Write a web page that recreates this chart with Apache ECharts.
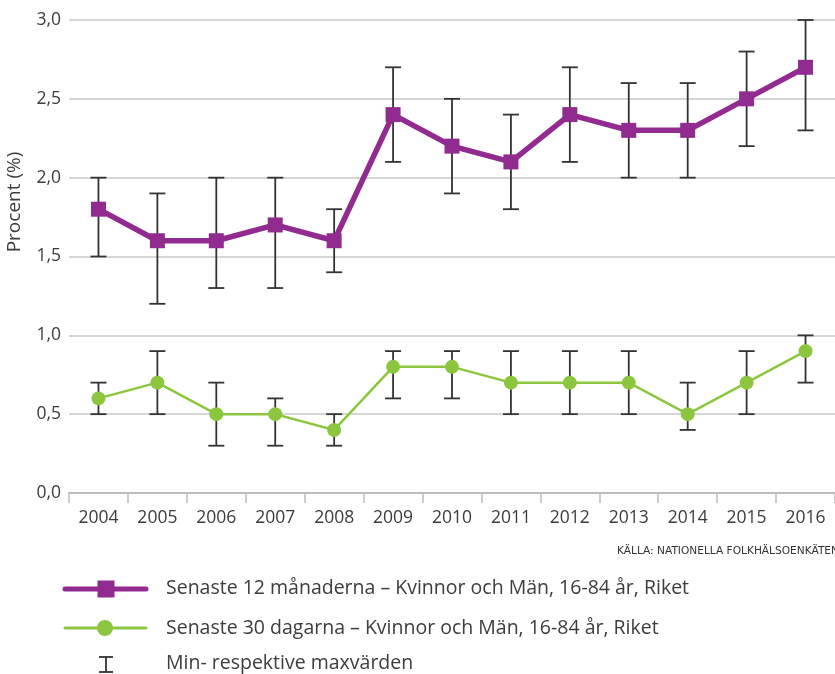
<!DOCTYPE html>
<html>
<head>
<meta charset="utf-8">
<script src="https://cdn.jsdelivr.net/npm/echarts@6/dist/echarts.min.js"></script>
<style>html,body{margin:0;padding:0;background:#fff}#c{width:835px;height:674px}</style>
</head>
<body>
<div id="c"></div>
<script>
var years = ['2004','2005','2006','2007','2008','2009','2010','2011','2012','2013','2014','2015','2016'];
var months12 = [1.8, 1.6, 1.6, 1.7, 1.6, 2.4, 2.2, 2.1, 2.4, 2.3, 2.3, 2.5, 2.7];
var months12Min = [1.5, 1.2, 1.3, 1.3, 1.4, 2.1, 1.9, 1.8, 2.1, 2.0, 2.0, 2.2, 2.3];
var months12Max = [2.0, 1.9, 2.0, 2.0, 1.8, 2.7, 2.5, 2.4, 2.7, 2.6, 2.6, 2.8, 3.0];
var days30 = [0.6, 0.7, 0.5, 0.5, 0.4, 0.8, 0.8, 0.7, 0.7, 0.7, 0.5, 0.7, 0.9];
var days30Min = [0.5, 0.5, 0.3, 0.3, 0.3, 0.6, 0.6, 0.5, 0.5, 0.5, 0.4, 0.5, 0.7];
var days30Max = [0.7, 0.9, 0.7, 0.6, 0.5, 0.9, 0.9, 0.9, 0.9, 0.9, 0.7, 0.9, 1.0];
var legendNames = ['Senaste 12 månaderna – Kvinnor och Män, 16-84 år, Riket', 'Senaste 30 dagarna – Kvinnor och Män, 16-84 år, Riket', 'Min- respektive maxvärden'];
var yTitle = 'Procent (%)';
var sourceText = 'KÄLLA: NATIONELLA FOLKHÄLSOENKÄTEN';

var PURPLE = '#912b8f', GREEN = '#8cc63f', BAR = '#333333', TXT = '#3c3c3c';
var FONT = 'Open Sans';

function errData(lo, hi) { return years.map(function (y, i) { return [i, lo[i], hi[i]]; }); }
function renderErr(params, api) {
  var i = api.value(0);
  var p1 = api.coord([i, api.value(1)]);
  var p2 = api.coord([i, api.value(2)]);
  var w = 8;
  var st = { stroke: BAR, lineWidth: 1.8 };
  return { type: 'group', children: [
    { type: 'line', shape: { x1: p1[0], y1: p1[1], x2: p2[0], y2: p2[1] }, style: st },
    { type: 'line', shape: { x1: p1[0] - w, y1: p1[1], x2: p1[0] + w, y2: p1[1] }, style: st },
    { type: 'line', shape: { x1: p2[0] - w, y1: p2[1], x2: p2[0] + w, y2: p2[1] }, style: st }
  ]};
}

var chart = echarts.init(document.getElementById('c'));
chart.setOption({
  animation: false,
  textStyle: { fontFamily: FONT },
  grid: { left: 69, width: 769, top: 20, height: 473 },
  xAxis: {
    type: 'category', data: years, boundaryGap: true,
    axisLine: { lineStyle: { color: '#bdbdbd', width: 2 } },
    axisTick: { show: true, length: 10, lineStyle: { color: '#bdbdbd', width: 1.5 } },
    axisLabel: { color: TXT, fontSize: 17.5, margin: 16, fontFamily: FONT },
    splitLine: { show: false }
  },
  yAxis: {
    type: 'value', min: 0, max: 3, interval: 0.5,
    axisLine: { show: false }, axisTick: { show: false },
    axisLabel: { color: TXT, fontSize: 17.5, margin: 8, fontFamily: FONT,
      formatter: function (v) { return v.toFixed(1).replace('.', ','); } },
    splitLine: { lineStyle: { color: '#c8c8c8', width: 1.5 } }
  },
  series: [
    { type: 'custom', name: 'err12', data: errData(months12Min, months12Max), renderItem: renderErr,
      encode: { x: 0, y: [1, 2] }, z: 2, silent: true },
    { type: 'custom', name: 'err30', data: errData(days30Min, days30Max), renderItem: renderErr,
      encode: { x: 0, y: [1, 2] }, z: 2, silent: true },
    { type: 'line', name: legendNames[0], data: months12, symbol: 'rect', symbolSize: 15,
      lineStyle: { color: PURPLE, width: 5.5 }, itemStyle: { color: PURPLE }, z: 5 },
    { type: 'line', name: legendNames[1], data: days30, symbol: 'circle', symbolSize: 14,
      lineStyle: { color: GREEN, width: 2.5 }, itemStyle: { color: GREEN }, z: 5 }
  ],
  graphic: [
    { type: 'text', x: 15, y: 202, rotation: Math.PI / 2,
      style: { text: yTitle, fill: TXT, font: '19px "' + FONT + '"', align: 'center', verticalAlign: 'middle' } },
    { type: 'text', x: 617, y: 551,
      style: { text: sourceText, fill: '#333', font: '10.6px "DejaVu Sans"', align: 'left', verticalAlign: 'middle' } },
    // legend row 1
    { type: 'line', shape: { x1: 65, y1: 589, x2: 146, y2: 589 }, style: { stroke: PURPLE, lineWidth: 5, lineCap: 'round' } },
    { type: 'rect', shape: { x: 97.5, y: 580.5, width: 17, height: 17 }, style: { fill: PURPLE } },
    { type: 'text', x: 166, y: 588, style: { text: legendNames[0], fill: TXT, font: '19.5px "' + FONT + '"', verticalAlign: 'middle' } },
    // legend row 2
    { type: 'line', shape: { x1: 65, y1: 628, x2: 146, y2: 628 }, style: { stroke: GREEN, lineWidth: 3, lineCap: 'round' } },
    { type: 'circle', shape: { cx: 105, cy: 628, r: 8 }, style: { fill: GREEN } },
    { type: 'text', x: 166, y: 628, style: { text: legendNames[1], fill: TXT, font: '19.5px "' + FONT + '"', verticalAlign: 'middle' } },
    // legend row 3
    { type: 'line', shape: { x1: 106, y1: 657, x2: 106, y2: 672 }, style: { stroke: BAR, lineWidth: 1.8 } },
    { type: 'line', shape: { x1: 99, y1: 657, x2: 113, y2: 657 }, style: { stroke: BAR, lineWidth: 1.8 } },
    { type: 'line', shape: { x1: 99, y1: 672, x2: 113, y2: 672 }, style: { stroke: BAR, lineWidth: 1.8 } },
    { type: 'text', x: 166, y: 663, style: { text: legendNames[2], fill: TXT, font: '19.5px "' + FONT + '"', verticalAlign: 'middle' } }
  ]
});
</script>
</body>
</html>
